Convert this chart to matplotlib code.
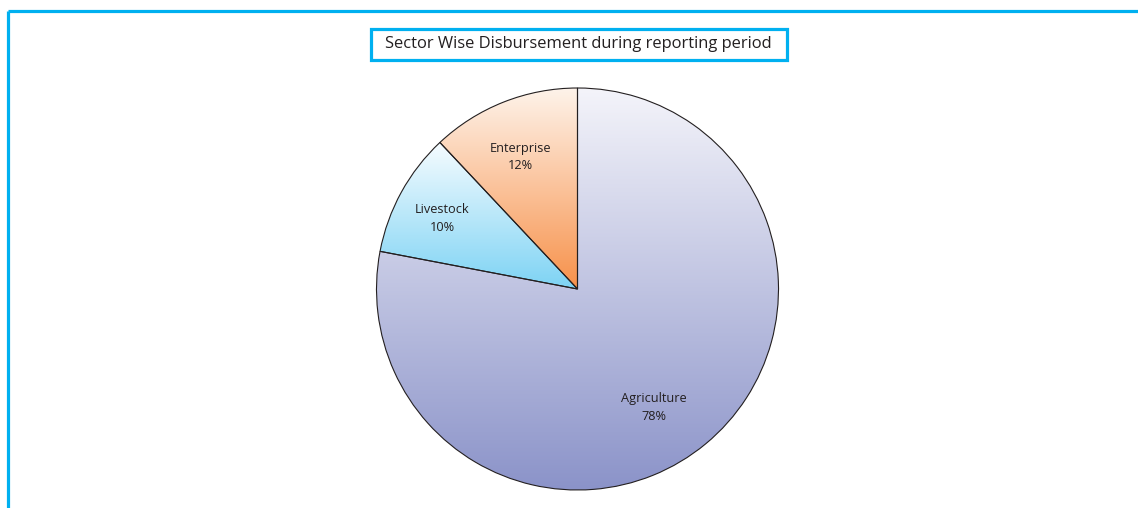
import numpy as np
import matplotlib.pyplot as plt
from matplotlib.patches import Rectangle
from matplotlib.colors import LinearSegmentedColormap

plt.rcParams['font.family'] = ['Open Sans', 'DejaVu Sans']

title = 'Sector Wise Disbursement during reporting period'
sectors = ['Agriculture', 'Livestock', 'Enterprise']
shares = [78, 10, 12]
# vertical gradient for each slice: top colour, bottom colour
gradients = [('#f4f4fa', '#8b93c9'),
             ('#f6fcff', '#7dd3f4'),
             ('#fef3ea', '#f7914a')]
label_pos = [(0.38, -0.59), (-0.674, 0.351), (-0.286, 0.657)]

W, H = 1138, 508
fig = plt.figure(figsize=(W / 100, H / 100), dpi=100)
ax = fig.add_axes([0, 0, 1, 1])

cx, cy, r = 577.5, H - 289, 201
wedges, _ = ax.pie(shares, startangle=90, counterclock=False,
                   center=(cx, cy), radius=r, frame=True,
                   wedgeprops=dict(edgecolor='#231f20', linewidth=0.8))
ax.set_xlim(0, W)
ax.set_ylim(0, H)
ax.set_aspect('equal')
ax.axis('off')

ramp = np.linspace(0, 1, 256).reshape(-1, 1)
for w, (top, bottom) in zip(wedges, gradients):
    w.set_facecolor('none')
    ext = w.get_path().get_extents()
    cmap = LinearSegmentedColormap.from_list('g', [top, bottom])
    im = ax.imshow(ramp, cmap=cmap, aspect='auto', origin='upper',
                   extent=(ext.x0, ext.x1, ext.y0, ext.y1), zorder=0.5)
    im.set_clip_path(w)

for name, pct, (lx, ly) in zip(sectors, shares, label_pos):
    ax.text(cx + lx * r, cy + ly * r, f'{name}\n{pct}%', ha='center',
            va='center', fontsize=9.2, color='#231f20', linespacing=1.45)

# title box
ax.add_patch(Rectangle((371.5, H - 60), 416, 31, facecolor='white',
                       edgecolor='#00b0f0', linewidth=2.3, zorder=3))
ax.text(578, H - 44.5, title, ha='center', va='center', fontsize=11.9,
        color='#231f20', zorder=4)

# outer frame (top and left edges)
ax.plot([8.5, W], [H - 11, H - 11], color='#00b0f0', linewidth=2.3,
        solid_capstyle='butt')
ax.plot([8.5, 8.5], [H - 11, 0], color='#00b0f0', linewidth=2.3,
        solid_capstyle='butt')

fig.savefig('out.png', dpi=100)
